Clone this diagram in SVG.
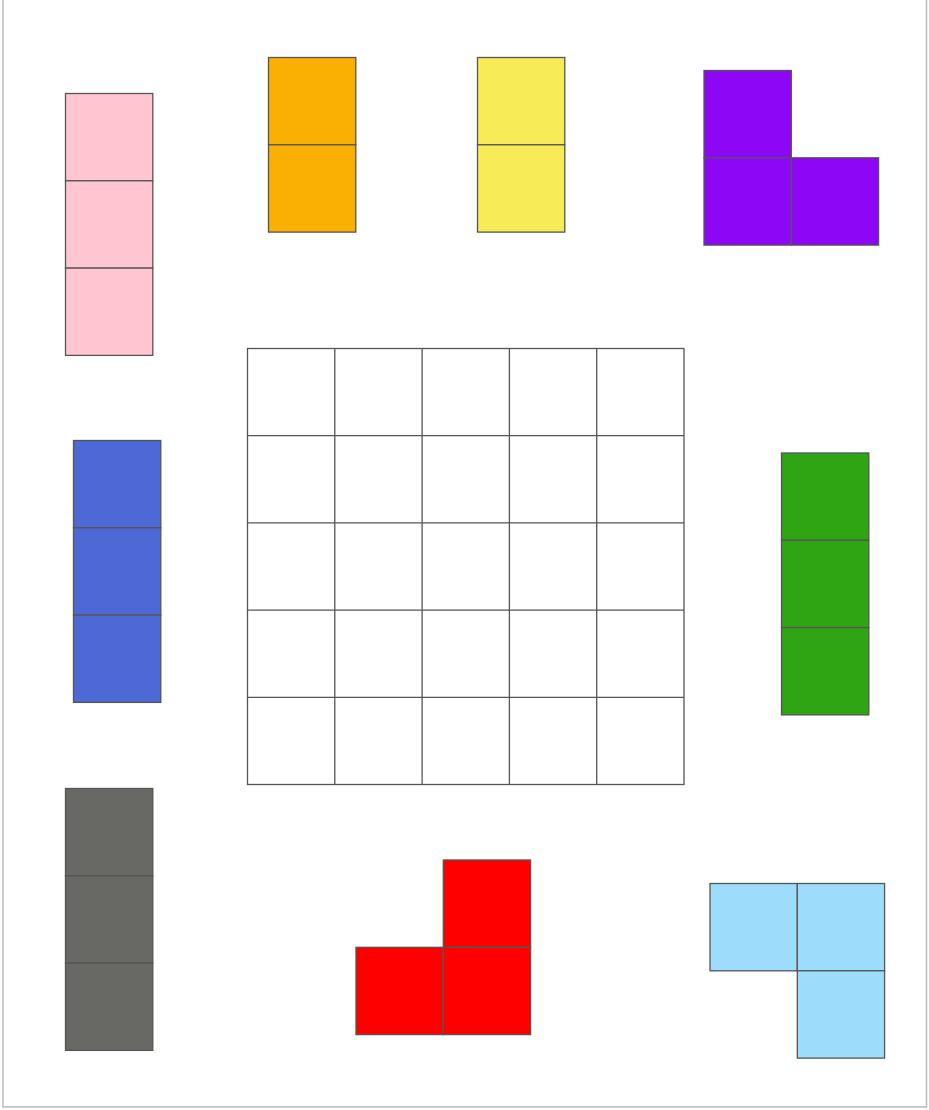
<svg xmlns="http://www.w3.org/2000/svg" width="929" height="1110" viewBox="0 0 929 1110">
<defs>
<style>
.c{stroke:#555;stroke-width:1.3}
.g{fill:none;stroke:#555;stroke-width:1.3}
.pink{fill:#FFC6D1}.orange{fill:#F9B002}.yellow{fill:#F7EC57}.purple{fill:#8D06F5}
.blue{fill:#4C69D6}.green{fill:#30A514}.gray{fill:#686865}.red{fill:#FF0000}.lblue{fill:#9EDCFB}
</style>
</defs>
<rect width="929" height="1110" fill="#fff"/>
<g id="frame" fill="none" stroke="#bbb" stroke-width="1.5">
<path d="M3,0 V1107 H926.5 V0"/>
</g>
<g id="board" class="g">
<rect x="247.5" y="348.5" width="436.5" height="436"/>
<path d="M334.8,348.5V784.5M422.1,348.5V784.5M509.4,348.5V784.5M596.7,348.5V784.5M247.5,435.7H684M247.5,522.9H684M247.5,610.1H684M247.5,697.3H684"/>
</g>
<g id="pink" class="c pink">
<rect x="65.5" y="93.5" width="87.3" height="87.3"/>
<rect x="65.5" y="180.8" width="87.3" height="87.3"/>
<rect x="65.5" y="268.1" width="87.3" height="87.3"/>
</g>
<g id="orange" class="c orange">
<rect x="268.5" y="57.5" width="87.3" height="87.3"/>
<rect x="268.5" y="144.8" width="87.3" height="87.3"/>
</g>
<g id="yellow" class="c yellow">
<rect x="477.5" y="57.5" width="87.3" height="87.3"/>
<rect x="477.5" y="144.8" width="87.3" height="87.3"/>
</g>
<g id="purple" class="c purple">
<rect x="704" y="70.5" width="87.3" height="87.3"/>
<rect x="704" y="157.8" width="87.3" height="87.3"/>
<rect x="791.3" y="157.8" width="87.3" height="87.3"/>
</g>
<g id="blue" class="c blue">
<rect x="73.5" y="440.5" width="87.3" height="87.3"/>
<rect x="73.5" y="527.8" width="87.3" height="87.3"/>
<rect x="73.5" y="615.1" width="87.3" height="87.3"/>
</g>
<g id="green" class="c green">
<rect x="781.5" y="453" width="87.3" height="87.3"/>
<rect x="781.5" y="540.3" width="87.3" height="87.3"/>
<rect x="781.5" y="627.6" width="87.3" height="87.3"/>
</g>
<g id="gray" class="c gray">
<rect x="65.5" y="788.5" width="87.3" height="87.3"/>
<rect x="65.5" y="875.8" width="87.3" height="87.3"/>
<rect x="65.5" y="963.1" width="87.3" height="87.3"/>
</g>
<g id="red" class="c red">
<rect x="443.3" y="860" width="87.3" height="87.3"/>
<rect x="356" y="947.3" width="87.3" height="87.3"/>
<rect x="443.3" y="947.3" width="87.3" height="87.3"/>
</g>
<g id="lightblue" class="c lblue">
<rect x="710" y="883.5" width="87.3" height="87.3"/>
<rect x="797.3" y="883.5" width="87.3" height="87.3"/>
<rect x="797.3" y="970.8" width="87.3" height="87.3"/>
</g>
</svg>
